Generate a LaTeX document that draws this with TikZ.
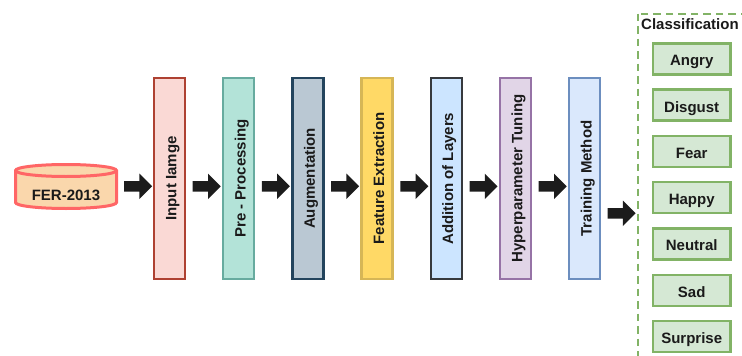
\documentclass[tikz,border=0pt]{standalone}
\usepackage{fontspec}
\setmainfont{Liberation Sans}
\usetikzlibrary{shapes.arrows,calc}
\definecolor{cylfill}{HTML}{FAD7AC}
\definecolor{cyldraw}{HTML}{FF6666}
\definecolor{f1}{HTML}{FAD9D5}\definecolor{d1}{HTML}{AE4132}
\definecolor{f2}{HTML}{B3E3D8}\definecolor{d2}{HTML}{67AB9F}
\definecolor{f3}{HTML}{BAC8D3}\definecolor{d3}{HTML}{23445D}
\definecolor{f4}{HTML}{FFD966}\definecolor{d4}{HTML}{D6B656}
\definecolor{f5}{HTML}{CCE5FF}\definecolor{d5}{HTML}{36393D}
\definecolor{f6}{HTML}{E1D5E7}\definecolor{d6}{HTML}{9673A6}
\definecolor{f7}{HTML}{DAE8FC}\definecolor{d7}{HTML}{6C8EBF}
\definecolor{gfill}{HTML}{D5E8D4}\definecolor{gdraw}{HTML}{82B366}
\definecolor{arrowc}{HTML}{1C1C1C}
\definecolor{txt}{HTML}{1A1A1A}
\begin{document}
\begin{tikzpicture}[x=1pt,y=-1pt,
  font=\fontsize{15}{18}\selectfont\bfseries, text=txt,
  lbl/.style={text height=13.8pt, text depth=0pt},
  stage/.style={lbl, draw=#1, line width=2.5pt, rotate=90, minimum width=201pt, minimum height=31pt, inner sep=0pt},
  cls/.style={lbl, draw=gdraw, fill=gfill, line width=2.5pt, minimum width=77.5pt, minimum height=31pt, inner sep=0pt},
  blockarrow/.style={single arrow, fill=arrowc, draw=none, minimum height=28pt, minimum width=25pt, single arrow head extend=7.5pt, inner sep=5pt},
  cylstyle/.style={draw=cyldraw, fill=cylfill, line width=3pt}]
\useasboundingbox (0,0) rectangle (742,356);
% container
\begin{scope}
\clip (0,0) rectangle (742,356);
\draw[gdraw, line width=2pt, dash pattern=on 7.5pt off 5pt] (637.5,13.5) rectangle (780,420);
\end{scope}
\node[anchor=base west, inner sep=0pt] (clab) at (641,30) {Classification};
% cylinder
\path[cylstyle] (15.5,170.5) -- (15.5,202.5) arc[start angle=180, end angle=0, x radius=50.5, y radius=6]
  -- (116.5,170.5) arc[start angle=0, end angle=-180, x radius=50.5, y radius=6] -- cycle;
\draw[cyldraw, line width=3pt] (15.5,170.5) arc[start angle=180, end angle=0, x radius=50.5, y radius=6];
\node[anchor=base, inner sep=0pt] (db) at (66,200) {FER-2013};
% stages
\node[stage=d1, fill=f1] (b1) at (169.5,178.5) {Input Iamge};
\node[stage=d2, fill=f2] (b2) at (238.7,178.5) {Pre - Processing};
\node[stage=d3, fill=f3] (b3) at (307.9,178.5) {Augmentation};
\node[stage=d4, fill=f4] (b4) at (377.1,178.5) {Feature Extraction};
\node[stage=d5, fill=f5] (b5) at (446.3,178.5) {Addition of Layers};
\node[stage=d6, fill=f6] (b6) at (515.5,178.5) {Hyperparameter Tuning};
\node[stage=d7, fill=f7] (b7) at (584.7,178.5) {Training Method};
% arrows
\node[blockarrow] (a1) at (135.5,186.3) {};
\node[blockarrow] (a2) at (204.1,186.3) {};
\node[blockarrow] (a3) at (273.3,186.3) {};
\node[blockarrow] (a4) at (342.5,186.3) {};
\node[blockarrow] (a5) at (411.7,186.3) {};
\node[blockarrow] (a6) at (480.9,186.3) {};
\node[blockarrow] (a7) at (550.1,186.3) {};
\node[blockarrow] (a8) at (619,213.3) {};
% classes
\node[cls] (c1) at (691.7,58.8) {Angry};
\node[cls] (c2) at (691.7,105.1) {Disgust};
\node[cls] (c3) at (691.7,151.4) {Fear};
\node[cls] (c4) at (691.7,197.7) {Happy};
\node[cls] (c5) at (691.7,244.0) {Neutral};
\node[cls] (c6) at (691.7,290.3) {Sad};
\node[cls] (c7) at (691.7,336.6) {Surprise};
\end{tikzpicture}
\end{document}
